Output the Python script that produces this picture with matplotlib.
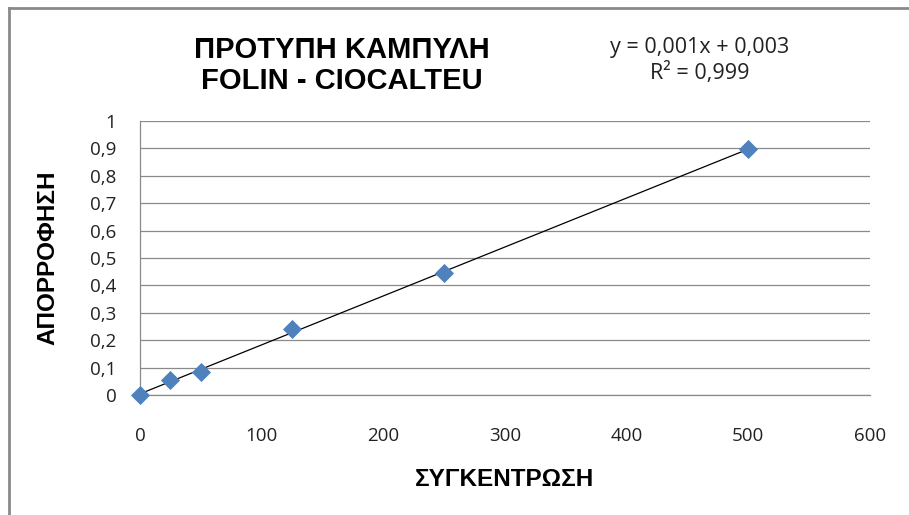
import numpy as np
import matplotlib
matplotlib.use("Agg")
import matplotlib.pyplot as plt
from matplotlib.lines import Line2D
from matplotlib.ticker import FuncFormatter

# Calibration standards (Folin-Ciocalteu)
concentration = [0, 25, 50, 125, 250, 500]
absorbance = [0.0, 0.055, 0.085, 0.24, 0.445, 0.898]

title_lines = ["ΠΡΟΤΥΠΗ ΚΑΜΠΥΛΗ", "FOLIN - CIOCALTEU"]
equation_lines = ["y = 0,001x + 0,003", "R² = 0,999"]
x_label = "ΣΥΓΚΕΝΤΡΩΣΗ"
y_label = "ΑΠΟΡΡΟΦΗΣΗ"
x_ticks = [0, 100, 200, 300, 400, 500, 600]
y_ticks = [0, 0.1, 0.2, 0.3, 0.4, 0.5, 0.6, 0.7, 0.8, 0.9, 1.0]

W, H = 909, 515
fig = plt.figure(figsize=(W / 100, H / 100), dpi=100)
ax = fig.add_axes([140 / W, 1 - 395 / H, (870 - 140) / W, (395 - 121) / H])

# linear least-squares trendline over the measured range
slope, intercept = np.polyfit(concentration, absorbance, 1)
xs = np.array([min(concentration), max(concentration)])
ax.plot(xs, slope * xs + intercept, color="black", lw=0.9, zorder=2)

ax.scatter(concentration, absorbance, marker="D", s=95, color="#4F81BD",
           linewidths=0, zorder=3, clip_on=False)

ax.set_xlim(0, 600)
ax.set_ylim(0, 1)
ax.set_xticks(x_ticks)
ax.set_yticks(y_ticks)


def comma_fmt(v, pos):
    return f"{v:g}".replace(".", ",")


ax.yaxis.set_major_formatter(FuncFormatter(comma_fmt))
ax.xaxis.set_major_formatter(FuncFormatter(comma_fmt))

for lab in ax.get_xticklabels() + ax.get_yticklabels():
    lab.set_fontfamily(["Open Sans", "DejaVu Sans"])
    lab.set_fontsize(13.5)
    lab.set_color("#222222")

ax.tick_params(axis="both", length=0)
ax.tick_params(axis="x", pad=23)
ax.tick_params(axis="y", pad=17)

ax.grid(axis="y", color="#8a8a8a", lw=0.9)
ax.set_axisbelow(True)
for side in ["top", "right"]:
    ax.spines[side].set_visible(False)
for side in ["left", "bottom"]:
    ax.spines[side].set_color("#8a8a8a")
    ax.spines[side].set_linewidth(0.9)

bold_font = ["Liberation Sans Narrow", "Liberation Sans", "DejaVu Sans"]
for text, yc in zip(title_lines, [50, 81]):
    fig.text(342 / W, 1 - yc / H, text, ha="center", va="center",
             fontsize=21, fontweight="bold", family=bold_font)

for text, yc in zip(equation_lines, [48, 73]):
    fig.text(700 / W, 1 - yc / H, text, ha="center", va="center", fontsize=15.5,
             family=["Open Sans", "DejaVu Sans"], color="#222222")

fig.text(504 / W, 1 - 479 / H, x_label, ha="center", va="center",
         fontsize=17.5, fontweight="bold", family=["Liberation Sans", "DejaVu Sans"])
fig.text(48 / W, 1 - 258 / H, y_label, ha="center", va="center", rotation=90,
         fontsize=17.5, fontweight="bold", family=["Liberation Sans", "DejaVu Sans"])

# chart area border (left and top edges)
fig.add_artist(Line2D([8.5 / W, 8.5 / W], [0, 1 - 8 / H], transform=fig.transFigure,
                      color="#8a8a8a", lw=2))
fig.add_artist(Line2D([8.5 / W, 1], [1 - 8 / H, 1 - 8 / H], transform=fig.transFigure,
                      color="#8a8a8a", lw=2))

fig.savefig("out.png", dpi=100, facecolor="white")
